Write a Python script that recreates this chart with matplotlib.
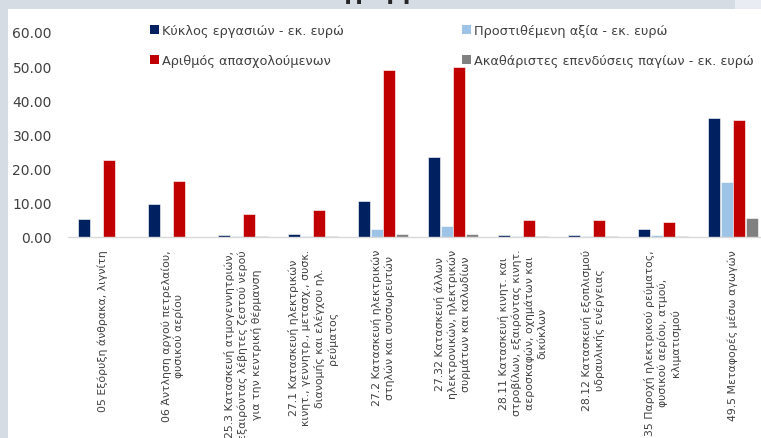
import matplotlib
matplotlib.use("Agg")
import matplotlib.pyplot as plt
from matplotlib.patches import Rectangle, Patch
import numpy as np

categories = [
    "05 Εξόρυξη άνθρακα, λιγνίτη",
    "06 Άντληση αργού πετρελαίου,\nφυσικού αερίου",
    "25.3 Κατασκευή ατμογεννητριών,\nεξαιρόντας λέβητες ζεστού νερού\nγια την κεντρική θέρμανση",
    "27.1 Κατασκευή ηλεκτρικών\nκινητ., γεννητρ., μετασχ., συσκ.\nδιανομής και ελέγχου ηλ.\nρεύματος",
    "27.2 Κατασκευή ηλεκτρικών\nστηλών και συσσωρευτών",
    "27.32 Κατασκευή άλλων\nηλεκτρονικών, ηλεκτρικών\nσυρμάτων και καλωδίων",
    "28.11 Κατασκευή κινητ. και\nστροβίλων, εξαιρόντας κινητ.\nαεροσκαφών, οχημάτων και\nδικύκλων",
    "28.12 Κατασκευή εξοπλισμού\nυδραυλικής ενέργειας",
    "35 Παροχή ηλεκτρικού ρεύματος,\nφυσικού αερίου, ατμού,\nκλιματισμού",
    "49.5 Μεταφορές μέσω αγωγών",
]

turnover = [5.3, 9.7, 0.6, 1.0, 10.4, 23.3, 0.5, 0.5, 2.4, 34.7]
value_added = [0.0, 0.0, 0.3, 0.3, 2.3, 3.2, 0.2, 0.2, 0.7, 16.2]
employees = [22.6, 16.4, 6.6, 8.0, 48.9, 49.7, 5.0, 5.0, 4.3, 34.2]
investment = [0.0, 0.0, 0.3, 0.3, 0.8, 0.8, 0.3, 0.3, 0.3, 5.6]

series_names = [
    "Κύκλος εργασιών - εκ. ευρώ",
    "Προστιθέμενη αξία - εκ. ευρώ",
    "Αριθμός απασχολούμενων",
    "Ακαθάριστες επενδύσεις παγίων - εκ. ευρώ",
]
series_values = [turnover, value_added, employees, investment]
colors = ["#002060", "#9DC3E6", "#C00000", "#808080"]

W, H = 761, 439
fig = plt.figure(figsize=(W / 100, H / 100), dpi=100, facecolor="white")

# slide background strips around the chart
fig.patches.append(Rectangle((0, 1 - 10 / H), 1, 10 / H, transform=fig.transFigure,
                             facecolor="#D6DCE4", edgecolor="none", zorder=0))
fig.patches.append(Rectangle((735 / W, 1 - 10 / H), 1, 10 / H, transform=fig.transFigure,
                             facecolor="#E9EDF3", edgecolor="none", zorder=0))
fig.patches.append(Rectangle((0, 0), 8 / W, 1 - 10 / H, transform=fig.transFigure,
                             facecolor="#D6DCE4", edgecolor="none", zorder=0))
# slide title, mostly above the visible area
fig.text(300 / W, 1 + 0.5 / H, "Διάγραμμα", fontsize=16, fontweight="bold",
         color="#262626", ha="left", va="baseline")

ax = fig.add_axes([67.8 / W, 201 / H, 700 / W, 205 / H])
ax.set_facecolor("none")

x = np.arange(len(categories))
step = 0.179
bw = 0.172
offsets = (np.arange(4) - 1.5) * step
for vals, off, col, name in zip(series_values, offsets, colors, series_names):
    ax.bar(x + off, vals, width=bw, color=col, edgecolor="white",
           linewidth=0.4, label=name, zorder=2)

ax.set_xlim(-0.5, len(categories) - 0.5)
ax.set_ylim(0, 60)
ax.set_yticks(np.arange(0, 61, 10))
ax.set_yticklabels([f"{v:.2f}" for v in np.arange(0, 61, 10)])
ax.tick_params(axis="y", length=0, pad=11.5, labelsize=10, labelcolor="#404040")
ax.set_xticks(x)
ax.set_xticklabels(categories, rotation=90, ha="center", va="top",
                   multialignment="center", fontsize=7.8, color="#404040",
                   linespacing=1.28)
ax.tick_params(axis="x", length=0, pad=8.6)
for s in ["top", "right", "left"]:
    ax.spines[s].set_visible(False)
ax.spines["bottom"].set_color("#D9D9D9")
ax.spines["bottom"].set_linewidth(1.0)

legend_handles = [Patch(facecolor=c) for c in colors]
order = [0, 2, 1, 3]
leg = fig.legend([legend_handles[i] for i in order], [series_names[i] for i in order],
                 ncol=2, loc="upper left", bbox_to_anchor=(150 / W, 1 - 25 / H),
                 frameon=False, fontsize=9.3, handlelength=0.7, handleheight=0.7,
                 handletextpad=0.25, columnspacing=9.1, labelspacing=1.3,
                 borderpad=0, borderaxespad=0, labelcolor="#404040")

fig.savefig("out.png", dpi=100, facecolor="white")
